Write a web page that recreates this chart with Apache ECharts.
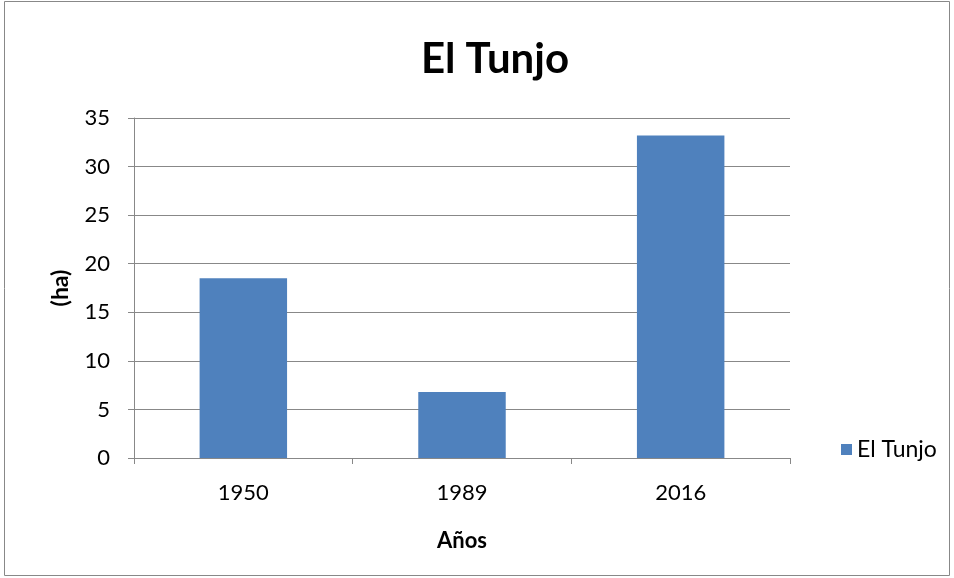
<!DOCTYPE html>
<html>
<head>
<meta charset="utf-8">
<script src="https://cdn.jsdelivr.net/npm/echarts@6/dist/echarts.min.js"></script>
<style>
  html, body { margin: 0; padding: 0; background: #fff; }
  #chart { width: 954px; height: 578px; }
</style>
</head>
<body>
<div id="chart"></div>
<script>
// categorias y valores
const years = ["1950", "1989", "2016"];
const hectareas = [18.5, 6.8, 33.2];
const yTicks = { min: 0, max: 35, interval: 5 };

const font = "Lato, 'Open Sans', sans-serif";
const chart = echarts.init(document.getElementById("chart"));

const option = {
  animation: false,
  textStyle: { fontFamily: font },
  graphic: [
    {
      type: "rect",
      shape: { x: 4.5, y: 1.5, width: 945, height: 574 },
      style: { fill: "none", stroke: "#888", lineWidth: 1 },
      silent: true,
    },
  ],
  title: {
    text: "El Tunjo",
    left: 490,
    top: 33,
    textAlign: "center",
    textStyle: { fontFamily: font, fontSize: 42, fontWeight: "bold", color: "#000" },
  },
  legend: {
    data: ["El Tunjo"],
    orient: "vertical",
    left: 836,
    top: 433,
    itemWidth: 11,
    itemHeight: 11,
    itemGap: 4,
    icon: "rect",
    textStyle: { fontFamily: font, fontSize: 23, color: "#000" },
  },
  grid: { left: 134, right: 164, top: 118, bottom: 120 },
  xAxis: {
    type: "category",
    data: years,
    name: "Años",
    nameLocation: "middle",
    nameGap: 72,
    nameTextStyle: { fontFamily: font, fontSize: 22, fontWeight: "bold", color: "#000" },
    axisLine: { lineStyle: { color: "#888" } },
    axisTick: { show: true, length: 6, lineStyle: { color: "#888" } },
    axisLabel: { fontFamily: font, fontSize: 22, color: "#000", margin: 24 },
  },
  yAxis: {
    type: "value",
    min: yTicks.min,
    max: yTicks.max,
    interval: yTicks.interval,
    name: "(ha)",
    nameLocation: "middle",
    nameGap: 62,
    nameRotate: 90,
    nameTextStyle: { fontFamily: font, fontSize: 23, fontWeight: "bold", color: "#000" },
    axisLine: { show: true, lineStyle: { color: "#888" } },
    axisTick: { show: true, length: 6, lineStyle: { color: "#888" } },
    axisLabel: { fontFamily: font, fontSize: 22, color: "#000", margin: 24 },
    splitLine: { lineStyle: { color: "#888" } },
  },
  series: [
    {
      name: "El Tunjo",
      type: "bar",
      data: hectareas,
      barWidth: "40%",
      itemStyle: { color: "#4f81bd" },
    },
  ],
};
chart.setOption(option);
</script>
</body>
</html>
